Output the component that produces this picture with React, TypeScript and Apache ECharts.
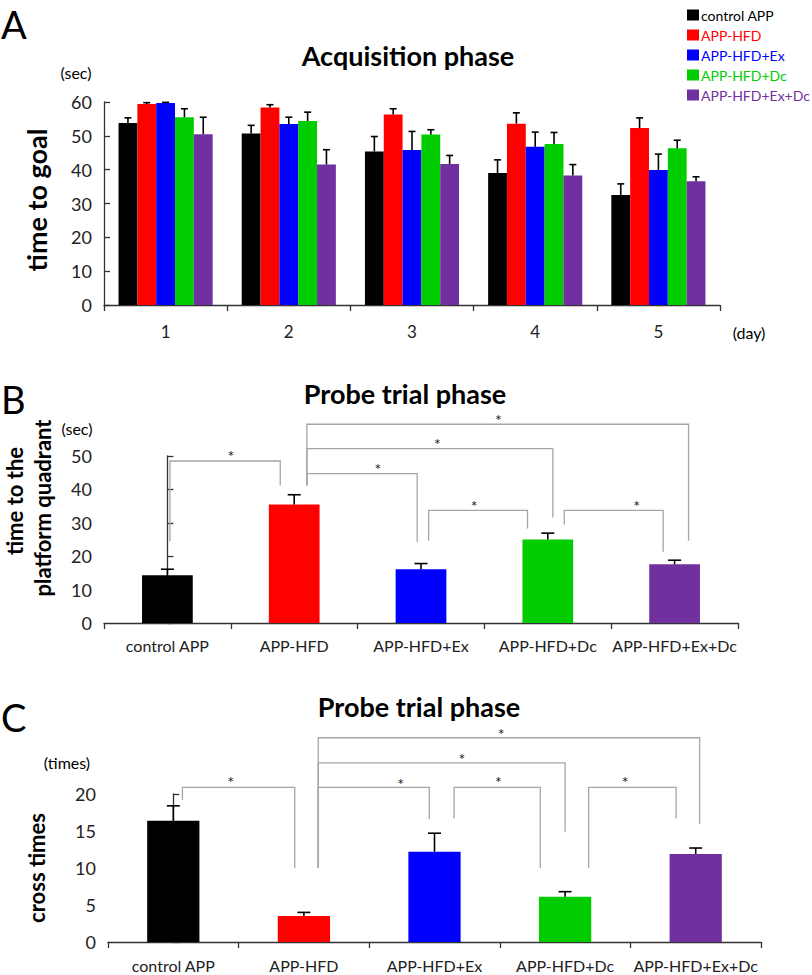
import { useEffect, useRef } from 'react';
import * as echarts from 'echarts';

const FONT = 'Lato, "Open Sans", sans-serif';

const days = ['1', '2', '3', '4', '5'];
const groups = ['control APP', 'APP-HFD', 'APP-HFD+Ex', 'APP-HFD+Dc', 'APP-HFD+Ex+Dc'];
const colors = ['#000000', '#ff0000', '#0000ff', '#00cc00', '#7030a0'];

// Acquisition phase: time to goal (sec), mean and SE per group over days 1-5
const acqControl = [53.8, 50.7, 45.4, 39.0, 32.5];
const acqHFD = [59.4, 58.4, 56.3, 53.6, 52.3];
const acqEx = [59.7, 53.5, 45.8, 46.8, 39.9];
const acqDc = [55.5, 54.4, 50.4, 47.6, 46.3];
const acqExDc = [50.5, 41.5, 41.7, 38.3, 36.6];
const acqControlSE = [1.5, 2.4, 4.4, 3.9, 3.3];
const acqHFDSE = [0.4, 0.8, 1.7, 3.2, 3.0];
const acqExSE = [0.2, 2.0, 5.5, 4.3, 4.7];
const acqDcSE = [2.5, 2.6, 1.4, 3.4, 2.4];
const acqExDcSE = [5.0, 4.4, 2.5, 3.2, 1.3];

// Probe trial: time to the platform quadrant (sec)
const probeTime = [14.3, 35.5, 16.1, 25.0, 17.6];
const probeTimeSE = [1.8, 2.9, 1.7, 1.9, 1.2];

// Probe trial: cross times
const crossTimes = [16.4, 3.5, 12.2, 6.1, 11.9];
const crossTimesSE = [2.0, 0.5, 2.5, 0.7, 0.8];

// Significance brackets: [xLeft, yLeftEnd, xRight, yRightEnd, yTop, xStar, yStar] (category units / data units)
const probeTimeBrackets = [
  [0.02, 24.5, 0.89, 41.2, 48.5, 0.5, 51.2],
  [1.1, 41.2, 1.97, 24.3, 44.7, 1.66, 47.4],
  [1.1, 41.2, 3.04, 31.6, 52.2, 2.13, 54.9],
  [1.1, 41.2, 4.11, 24.6, 59.5, 2.61, 62.2],
  [2.06, 24.6, 2.84, 28.3, 33.7, 2.42, 36.4],
  [3.13, 29.5, 3.91, 21.3, 33.7, 3.7, 36.4],
];
const crossBrackets = [
  [0.07, 19.2, 0.93, 10.0, 20.9, 0.44, 22.2],
  [1.11, 10.0, 1.96, 16.6, 20.9, 1.74, 21.9],
  [1.11, 10.0, 3.0, 14.9, 24.2, 2.21, 25.4],
  [1.11, 10.0, 4.03, 15.9, 27.6, 2.51, 28.7],
  [2.15, 16.7, 2.81, 10.0, 20.9, 2.49, 22.2],
  [3.18, 10.0, 3.85, 16.7, 20.9, 3.46, 22.2],
];

const acqMeans = [acqControl, acqHFD, acqEx, acqDc, acqExDc];
const acqSEs = [acqControlSE, acqHFDSE, acqExSE, acqDcSE, acqExDcSE];

const AXIS_COLOR = '#333';
const LABEL_COLOR = '#222';
const A_GAP = 0.236;
const B_WIDTH = 0.4;

function errorRender(groupFrac: number, n: number, capHalf: number) {
  return (_params: any, api: any) => {
    const cat = api.value(0);
    const mean = api.value(1);
    const top = api.value(2);
    const s = api.value(3);
    const base = api.coord([cat, mean]);
    const tp = api.coord([cat, top]);
    const catW = api.size([1, 0])[0];
    const groupW = catW * groupFrac;
    const bw = groupW / n;
    const cx = base[0] - groupW / 2 + (s + 0.5) * bw;
    const st = { stroke: '#000', lineWidth: 1.6 };
    return {
      type: 'group',
      children: [
        { type: 'line', shape: { x1: cx, y1: base[1], x2: cx, y2: tp[1] }, style: st },
        { type: 'line', shape: { x1: cx - capHalf, y1: tp[1], x2: cx + capHalf, y2: tp[1] }, style: st },
      ],
    };
  };
}

function bracketRender(_params: any, api: any) {
  const xl = api.value(0), yl = api.value(1), xr = api.value(2), yr = api.value(3), yt = api.value(4);
  const xs = api.value(5), ys = api.value(6);
  const p1 = api.coord([xl, yl]);
  const p2 = api.coord([xl, yt]);
  const p3 = api.coord([xr, yt]);
  const p4 = api.coord([xr, yr]);
  const ps = api.coord([xs, ys]);
  return {
    type: 'group',
    children: [
      {
        type: 'polyline',
        shape: { points: [p1, p2, p3, p4] },
        style: { stroke: '#a6a6a6', lineWidth: 1.3, fill: 'none' },
      },
      {
        type: 'text',
        x: ps[0],
        y: ps[1] + 4,
        style: { text: '*', fontSize: 16, fontFamily: FONT, fill: '#222', align: 'center', verticalAlign: 'middle' },
      },
    ],
  };
}

function catAxis(gridIndex: number, data: string[], fontSize: number, margin: number) {
  return {
    type: 'category',
    gridIndex,
    data,
    axisLine: { lineStyle: { color: AXIS_COLOR, width: 1.3 } },
    axisTick: { show: true, length: 6, lineStyle: { color: AXIS_COLOR, width: 1.3 } },
    axisLabel: { color: LABEL_COLOR, fontSize, fontFamily: FONT, margin, interval: 0 },
  };
}

function valAxis(gridIndex: number, max: number, interval: number) {
  return {
    type: 'value',
    gridIndex,
    min: 0,
    max,
    interval,
    splitLine: { show: false },
    axisLine: { show: true, lineStyle: { color: AXIS_COLOR, width: 1.3 } },
    axisTick: { show: true, inside: true, length: 6, lineStyle: { color: AXIS_COLOR, width: 1.3 } },
    axisLabel: { color: LABEL_COLOR, fontSize: 18, fontFamily: FONT, margin: 12 },
  };
}

function hiddenX(gridIndex: number) {
  return { type: 'value', gridIndex, min: -0.5, max: 4.5, show: false };
}

function txt(text: string, x: number, y: number, fontSize: number, extra: any = {}) {
  return {
    type: 'text',
    x,
    y,
    rotation: extra.rotation || 0,
    style: {
      text,
      fontSize,
      fontFamily: FONT,
      fontWeight: extra.bold ? 'bold' : 'normal',
      fill: extra.color || '#000',
      align: extra.align || 'center',
      verticalAlign: 'middle',
    },
  };
}

export default function App() {
  const ref = useRef<HTMLDivElement>(null);
  useEffect(() => {
    const chart = echarts.init(ref.current!, null, { renderer: 'svg' });

    const acqBars = groups.map((g, i) => ({
      name: g,
      type: 'bar',
      xAxisIndex: 0,
      yAxisIndex: 0,
      data: acqMeans[i],
      barGap: 0,
      barCategoryGap: A_GAP * 100 + '%',
      itemStyle: { color: colors[i] },
    }));

    const acqErrData: number[][] = [];
    groups.forEach((_g, s) => {
      days.forEach((_d, c) => {
        acqErrData.push([c, acqMeans[s][c], acqMeans[s][c] + acqSEs[s][c], s]);
      });
    });

    const option: any = {
      animation: false,
      backgroundColor: '#fff',
      legend: {
        orient: 'vertical',
        left: 682,
        top: 2,
        itemWidth: 12,
        itemHeight: 11,
        itemGap: 4,
        icon: 'rect',
        textStyle: { fontSize: 14, fontFamily: FONT, lineHeight: 16, padding: [0, 0, 0, -3] },
        data: groups.map((g, i) => ({ name: g, textStyle: { color: colors[i] } })),
      },
      grid: [
        { left: 104, top: 102, width: 616, height: 203 },
        { left: 104, top: 456, width: 634, height: 167 },
        { left: 108, top: 794, width: 653, height: 148 },
      ],
      xAxis: [
        catAxis(0, days, 17, 18),
        catAxis(1, groups, 16, 14),
        hiddenX(1),
        catAxis(2, groups, 16, 15),
        hiddenX(2),
      ],
      yAxis: [valAxis(0, 60, 10), valAxis(1, 50, 10), valAxis(2, 20, 5)],
      series: [
        ...acqBars,
        {
          type: 'custom',
          xAxisIndex: 0,
          yAxisIndex: 0,
          clip: false,
          itemStyle: { color: '#000' },
          renderItem: errorRender(1 - A_GAP, 5, 3.5),
          data: acqErrData,
          encode: { x: 0, y: [1, 2] },
          z: 3,
        },
        {
          name: 'probeTime',
          type: 'bar',
          xAxisIndex: 1,
          yAxisIndex: 1,
          barWidth: B_WIDTH * 100 + '%',
          data: probeTime.map((v, i) => ({ value: v, itemStyle: { color: colors[i] } })),
        },
        {
          type: 'custom',
          xAxisIndex: 1,
          yAxisIndex: 1,
          clip: false,
          itemStyle: { color: '#000' },
          renderItem: errorRender(B_WIDTH, 1, 6.5),
          data: probeTime.map((v, i) => [i, v, v + probeTimeSE[i], 0]),
          encode: { x: 0, y: [1, 2] },
          z: 3,
        },
        {
          type: 'custom',
          xAxisIndex: 2,
          yAxisIndex: 1,
          clip: false,
          itemStyle: { color: '#222' },
          renderItem: bracketRender,
          data: probeTimeBrackets,
          encode: { x: [0, 2], y: [1, 3, 4] },
          z: 4,
        },
        {
          name: 'crossTimes',
          type: 'bar',
          xAxisIndex: 3,
          yAxisIndex: 2,
          barWidth: B_WIDTH * 100 + '%',
          data: crossTimes.map((v, i) => ({ value: v, itemStyle: { color: colors[i] } })),
        },
        {
          type: 'custom',
          xAxisIndex: 3,
          yAxisIndex: 2,
          clip: false,
          itemStyle: { color: '#000' },
          renderItem: errorRender(B_WIDTH, 1, 6.5),
          data: crossTimes.map((v, i) => [i, v, v + crossTimesSE[i], 0]),
          encode: { x: 0, y: [1, 2] },
          z: 3,
        },
        {
          type: 'custom',
          xAxisIndex: 4,
          yAxisIndex: 2,
          clip: false,
          itemStyle: { color: '#222' },
          renderItem: bracketRender,
          data: crossBrackets,
          encode: { x: [0, 2], y: [1, 3, 4] },
          z: 4,
        },
      ],
      graphic: [
        txt('A', 1, 24, 38, { align: 'left' }),
        txt('B', 1, 399, 38, { align: 'left' }),
        txt('C', 1, 717, 38, { align: 'left' }),
        txt('Acquisition phase', 408, 55, 27, { bold: true }),
        txt('Probe trial phase', 405, 393, 27, { bold: true }),
        txt('Probe trial phase', 419, 706, 27, { bold: true }),
        txt('(sec)', 76, 72, 16),
        txt('(day)', 749, 332, 16),
        txt('(sec)', 77, 428, 16),
        txt('(times)', 67, 762, 16),
        txt('time to goal', 36, 200, 27, { bold: true, rotation: Math.PI / 2 }),
        txt('time to the', 14, 501, 22, { bold: true, rotation: Math.PI / 2 }),
        txt('platform quadrant', 42, 508, 22, { bold: true, rotation: Math.PI / 2 }),
        txt('cross times', 36, 868, 22, { bold: true, rotation: Math.PI / 2 }),
      ],
    };

    chart.setOption(option);
    return () => chart.dispose();
  }, []);
  return (
    <div
      ref={ref}
      style={{ position: 'fixed', left: 0, top: 0, width: 812, height: 975, background: '#fff' }}
    />
  );
}
